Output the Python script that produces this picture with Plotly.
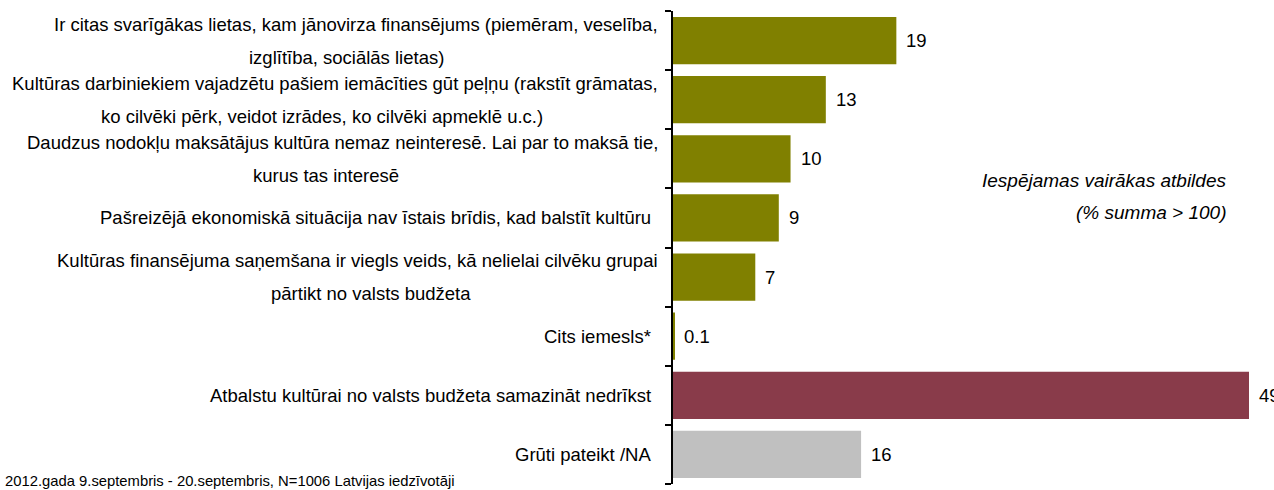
import plotly.graph_objects as go

categories = [
    "Ir citas svarīgākas lietas, kam jānovirza finansējums (piemēram, veselība,|izglītība, sociālās lietas)",
    "Kultūras darbiniekiem vajadzētu pašiem iemācīties gūt peļņu (rakstīt grāmatas,|ko cilvēki pērk, veidot izrādes, ko cilvēki apmeklē u.c.)",
    "Daudzus nodokļu maksātājus kultūra nemaz neinteresē. Lai par to maksā tie,|kurus tas interesē",
    "Pašreizējā ekonomiskā situācija nav īstais brīdis, kad balstīt kultūru",
    "Kultūras finansējuma saņemšana ir viegls veids, kā nelielai cilvēku grupai|pārtikt no valsts budžeta",
    "Cits iemesls*",
    "Atbalstu kultūrai no valsts budžeta samazināt nedrīkst",
    "Grūti pateikt /NA",
]
values = [19, 13, 10, 9, 7, 0.1, 49, 16]
value_labels = ["19", "13", "10", "9", "7", "0.1", "49", "16"]
bar_colors = ["#808000"] * 6 + ["#893B4A", "#C0C0C0"]
note_text = "Iespējamas vairākas atbildes<br>(% summa > 100)"
footer_text = "2012.gada 9.septembris - 20.septembris, N=1006 Latvijas iedzīvotāji"

W, H = 1274, 490
AX = 673            # axis x in page pixels
L, R, T, B = AX, 0, 11, H - 484
FONT = "Liberation Sans, Arial, sans-serif"
FS = 18.5


def px_x(px):
    return (px - L) / (W - L - R)


def px_y(py):
    return (H - B - py) / (H - T - B)


ids = list(range(len(categories)))

fig = go.Figure(go.Bar(
    x=values, y=ids, orientation="h",
    marker=dict(color=bar_colors, line=dict(width=0)),
    width=0.8, hoverinfo="skip",
))

annotations = []
for i, (v, t) in enumerate(zip(values, value_labels)):
    annotations.append(dict(x=v, y=i, xref="x", yref="y", text=t, showarrow=False,
                            xanchor="left", yanchor="middle", xshift=8,
                            font=dict(family=FONT, size=FS, color="black")))

line2_center = {0: 346, 1: 322, 2: 326, 4: 371}
for i, cat in enumerate(categories):
    parts = cat.split("|")
    if len(parts) == 1:
        annotations.append(dict(x=0, y=i, xref="x", yref="y", text=parts[0],
                                showarrow=False, xanchor="right", yanchor="middle", xshift=-(AX - 653),
                                font=dict(family=FONT, size=FS, color="black")))
    else:
        annotations.append(dict(x=0, y=i, xref="x", yref="y", text=parts[0],
                                showarrow=False, xanchor="right", yanchor="middle", xshift=-(AX - 660),
                                yshift=16.5,
                                font=dict(family=FONT, size=FS, color="black")))
        annotations.append(dict(x=0, y=i, xref="x", yref="y", text=parts[1],
                                showarrow=False, xanchor="center", yanchor="middle",
                                xshift=line2_center[i] - AX, yshift=-16.5,
                                font=dict(family=FONT, size=FS, color="black")))

note_lines = note_text.split("<br>")
for txt, py in zip(note_lines, [181, 213]):
    annotations.append(dict(x=px_x(1228), y=px_y(py), xref="paper", yref="paper", text=txt,
                            showarrow=False, xanchor="right", yanchor="middle",
                            font=dict(family=FONT, size=19, color="black", style="italic")))
annotations.append(dict(x=px_x(3), y=px_y(481), xref="paper", yref="paper", text=footer_text,
                        showarrow=False, xanchor="left", yanchor="middle",
                        font=dict(family=FONT, size=14.8, color="black")))

fig.update_layout(
    width=W, height=H,
    margin=dict(l=L, r=R, t=T, b=B, pad=0),
    paper_bgcolor="white", plot_bgcolor="white",
    showlegend=False,
    annotations=annotations,
    xaxis=dict(range=[0, (W - AX) / ((1249 - AX) / 49)], visible=False, fixedrange=True),
    yaxis=dict(range=[len(categories) - 0.5, -0.5], showticklabels=False,
               tickmode="array", tickvals=[i - 0.5 for i in range(len(categories) + 1)],
               ticks="outside", ticklen=6, tickwidth=2, tickcolor="black",
               showline=True, linecolor="black", linewidth=2, showgrid=False,
               zeroline=False, fixedrange=True),
)

fig.write_html("out.html", config={"displayModeBar": False},
               post_script="document.body.style.margin='0px';document.body.style.overflow='hidden';")
